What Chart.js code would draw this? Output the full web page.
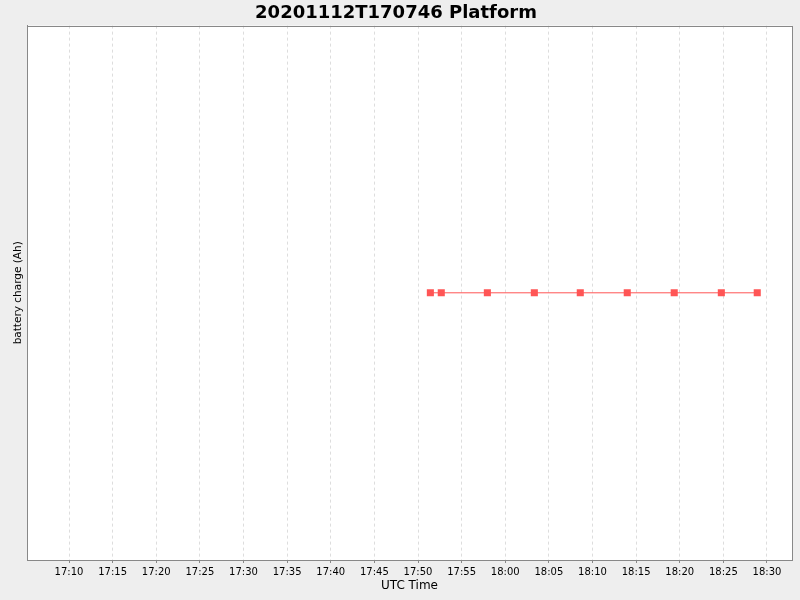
<!DOCTYPE html>
<html>
<head>
<meta charset="utf-8">
<script src="https://cdn.jsdelivr.net/npm/chart.js@4"></script>
<style>
  html, body { margin: 0; padding: 0; background: #eeeeee; }
  #wrap { width: 800px; height: 600px; }
</style>
</head>
<body>
<div id="wrap"><canvas id="battery-chart" width="800" height="600"></canvas></div>
<script>
//Chart data (times as UTC hh:mm:ss)
const sampleTimes = ['17:51:25', '17:52:40', '17:57:57', '18:03:20', '18:08:36',
                     '18:13:59', '18:19:22', '18:24:46', '18:28:53'];
const batteryCharge = [0, 0, 0, 0, 0, 0, 0, 0, 0];
const tickLabels = ['17:10', '17:15', '17:20', '17:25', '17:30', '17:35', '17:40', '17:45',
                    '17:50', '17:55', '18:00', '18:05', '18:10', '18:15', '18:20', '18:25', '18:30'];
const axisStart = '17:05:11';
const axisEnd = '18:32:52';

//hh:mm(:ss) -> seconds since midnight
function toSeconds(str){
    let p = str.split(':').map(Number);
    return p[0] * 3600 + p[1] * 60 + (p[2] || 0);
}
function fmt(sec){
    let h = Math.floor(sec / 3600);
    let m = Math.floor((sec % 3600) / 60);
    return String(h).padStart(2, '0') + ':' + String(m).padStart(2, '0');
}

//Draw frame round the plot area
const frame = {
    id: 'frame',
    afterDraw(chart){
        const a = chart.chartArea, ctx = chart.ctx;
        ctx.save();
        ctx.strokeStyle = '#888888';
        ctx.lineWidth = 1;
        ctx.strokeRect(Math.round(a.left) + 0.5, Math.round(a.top) + 0.5,
                       Math.round(a.right - a.left), Math.round(a.bottom - a.top));
        ctx.restore();
    }
};
const plotBg = {
    id: 'plotBg',
    beforeDraw(chart){
        const a = chart.chartArea, ctx = chart.ctx;
        ctx.save();
        ctx.fillStyle = '#eeeeee';
        ctx.fillRect(0, 0, chart.width, chart.height);
        ctx.fillStyle = '#ffffff';
        ctx.fillRect(a.left, a.top, a.right - a.left, a.bottom - a.top);
        ctx.restore();
    }
};

let points = sampleTimes.map((t, i) => ({x: toSeconds(t), y: batteryCharge[i]}));

let ctx = document.getElementById('battery-chart').getContext('2d');
let chart = new Chart(ctx, {
    type: 'line',
    data: {
        datasets: [{
            label: 'battery charge',
            data: points,
            borderColor: 'rgb(255, 85, 85)',
            borderWidth: 1,
            backgroundColor: 'rgb(255, 85, 85)',
            pointStyle: 'rect',
            pointRadius: 5,
            pointBorderWidth: 0,
            pointBackgroundColor: 'rgb(255, 85, 85)',
            tension: 0
        }]
    },
    options: {
        responsive: false,
        animation: false,
        layout: { padding: { left: 0, right: 8, top: 0, bottom: 7 } },
        plugins: {
            legend: { display: false },
            tooltip: { enabled: false },
            title: {
                display: true,
                text: '20201112T170746 Platform',
                color: '#000000',
                font: { family: 'DejaVu Sans', size: 18, weight: 'bold' },
                padding: { top: 3, bottom: 1 }
            }
        },
        scales: {
            x: {
                type: 'linear',
                min: toSeconds(axisStart),
                max: toSeconds(axisEnd),
                afterBuildTicks: (scale) => {
                    scale.ticks = tickLabels.map(l => ({value: toSeconds(l)}));
                },
                afterFit: (scale) => { scale.height = 33; },
                ticks: {
                    color: '#000000',
                    font: { family: 'DejaVu Sans', size: 10 },
                    maxRotation: 0,
                    autoSkip: false,
                    padding: 3,
                    callback: (v) => fmt(v)
                },
                grid: {
                    color: '#dddddd',
                    tickLength: 3,
                    tickColor: '#888888',
                    drawTicks: true
                },
                border: { color: '#888888', dash: [3, 3] },
                title: {
                    display: true,
                    text: 'UTC Time',
                    color: '#000000',
                    font: { family: 'DejaVu Sans', size: 12 },
                    padding: { top: 2, bottom: 0 }
                }
            },
            y: {
                min: -1,
                max: 1,
                afterFit: (scale) => { scale.width = 27; },
                ticks: { display: false },
                grid: { display: false },
                border: { color: '#888888' },
                title: {
                    display: true,
                    text: 'battery charge (Ah)',
                    color: '#000000',
                    font: { family: 'DejaVu Sans', size: 10.5 },
                    padding: { top: 12, bottom: 0 }
                }
            }
        }
    },
    plugins: [plotBg, frame]
});
</script>
</body>
</html>
